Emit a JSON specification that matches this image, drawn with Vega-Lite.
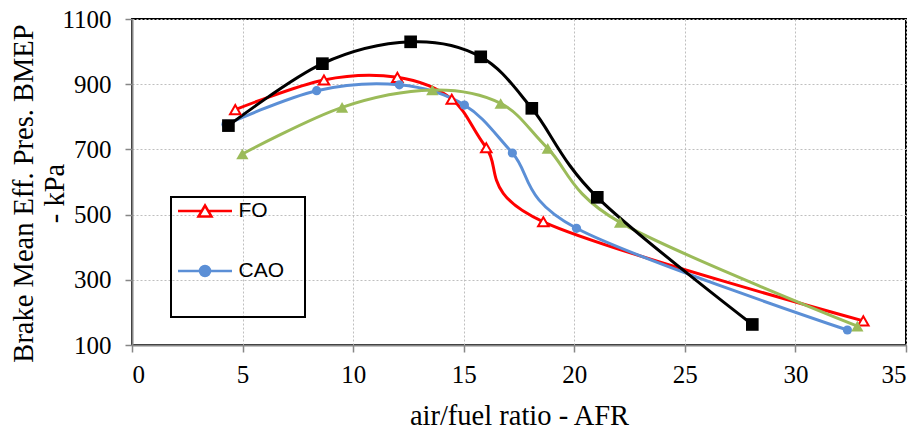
{
  "$schema": "https://vega.github.io/schema/vega-lite/v6.json",
  "width": 774,
  "height": 326,
  "autosize": {"type": "none"},
  "padding": {"left": 132, "top": 19, "right": 15, "bottom": 85},
  "background": "white",
  "config": {
    "view": {"stroke": "black", "strokeWidth": 2},
    "font": "Liberation Serif"
  },
  "data": {
    "values": [
      {"series": "FO", "afr": 4.67, "bmep": 822},
      {"series": "FO", "afr": 8.68, "bmep": 913},
      {"series": "FO", "afr": 12.0, "bmep": 921},
      {"series": "FO", "afr": 14.46, "bmep": 854},
      {"series": "FO", "afr": 16.02, "bmep": 705},
      {"series": "FO", "afr": 18.6, "bmep": 478},
      {"series": "FO", "afr": 33.07, "bmep": 174},
      {"series": "CAO", "afr": 4.25, "bmep": 777},
      {"series": "CAO", "afr": 8.35, "bmep": 880},
      {"series": "CAO", "afr": 12.09, "bmep": 898},
      {"series": "CAO", "afr": 15.03, "bmep": 836},
      {"series": "CAO", "afr": 17.2, "bmep": 689},
      {"series": "CAO", "afr": 20.1, "bmep": 458},
      {"series": "CAO", "afr": 32.35, "bmep": 146},
      {"series": "Blend", "afr": 4.99, "bmep": 686},
      {"series": "Blend", "afr": 9.5, "bmep": 829},
      {"series": "Blend", "afr": 13.58, "bmep": 882},
      {"series": "Blend", "afr": 16.67, "bmep": 841},
      {"series": "Blend", "afr": 18.8, "bmep": 703},
      {"series": "Blend", "afr": 22.07, "bmep": 476},
      {"series": "Blend", "afr": 32.8, "bmep": 158},
      {"series": "Diesel", "afr": 4.36, "bmep": 773},
      {"series": "Diesel", "afr": 8.61, "bmep": 963},
      {"series": "Diesel", "afr": 12.6, "bmep": 1030},
      {"series": "Diesel", "afr": 15.77, "bmep": 984},
      {"series": "Diesel", "afr": 18.08, "bmep": 826},
      {"series": "Diesel", "afr": 21.04, "bmep": 553},
      {"series": "Diesel", "afr": 28.05, "bmep": 163}
    ]
  },
  "encoding": {
    "x": {
      "field": "afr", "type": "quantitative",
      "scale": {"domain": [0, 35], "nice": false, "zero": false},
      "axis": {
        "title": "air/fuel ratio - AFR",
        "values": [0, 5, 10, 15, 20, 25, 30, 35],
        "domainColor": "#868686", "domainWidth": 2,
        "tickColor": "#868686", "tickWidth": 1.5, "tickSize": 7,
        "gridColor": "#bfbfbf", "gridDash": [2, 2], "gridWidth": 1,
        "labelFont": "Liberation Serif", "labelFontSize": 25, "labelColor": "black", "labelPadding": 10,
        "titleFont": "Liberation Serif", "titleFontSize": 28.5, "titleFontWeight": "normal", "titleColor": "black",
        "titleY": 79, "titleBaseline": "alphabetic"
      }
    },
    "y": {
      "field": "bmep", "type": "quantitative",
      "scale": {"domain": [100, 1100], "nice": false, "zero": false},
      "axis": {
        "title": ["Brake Mean Eff. Pres. BMEP", "- kPa"],
        "values": [100, 300, 500, 700, 900, 1100],
        "format": "d",
        "domainColor": "#868686", "domainWidth": 2,
        "tickColor": "#868686", "tickWidth": 1.5, "tickSize": 7,
        "gridColor": "#bfbfbf", "gridDash": [2, 2], "gridWidth": 1,
        "labelFont": "Liberation Serif", "labelFontSize": 25, "labelColor": "black", "labelPadding": 14,
        "titleFont": "Liberation Serif", "titleFontSize": 28.5, "titleFontWeight": "normal", "titleColor": "black",
        "titleAngle": -90, "titleX": -100, "titleY": 174, "titleBaseline": "alphabetic", "titleAlign": "center", "titleLineHeight": 31
      }
    }
  },
  "layer": [
    {
      "mark": {"type": "line", "interpolate": "cardinal", "strokeWidth": 3},
      "encoding": {
        "stroke": {
          "field": "series", "type": "nominal",
          "scale": {"domain": ["FO", "CAO", "Blend", "Diesel"], "range": ["#ff0000", "#5b8fd6", "#9bbb59", "#000000"]},
          "legend": {
            "values": ["FO", "CAO"],
            "title": "MMMMMMM",
            "titleOrient": "bottom", "titleFont": "Liberation Sans", "titleFontSize": 22, "titlePadding": 12, "titleOpacity": 0,
            "orient": "none", "legendX": 39, "legendY": 178,
            "strokeColor": "black", "padding": 2.5,
            "symbolSize": 400, "symbolStrokeWidth": 2.5,
            "rowPadding": 38,
            "labelFont": "Liberation Sans", "labelFontSize": 21, "labelColor": "black", "labelOffset": 42,
            "encode": {
              "legend": {"update": {"strokeWidth": {"value": 2}}},
              "symbols": {
                "update": {
                  "shape": {"signal": "datum.value === 'FO' ? 'M-0.7,0H1.675M2.325,0H4.7M2,-0.55L2.65,0.55H1.35Z' : 'M-0.7,0H4.7M2.5,0A0.5,0.5 0 1,1 1.5,0A0.5,0.5 0 1,1 2.5,0Z'"},
                  "fill": {"signal": "datum.value === 'FO' ? 'white' : '#5b8fd6'"},
                  "fillOpacity": {"value": 1},
                  "opacity": {"value": 1}
                }
              }
            }
          }
        }
      }
    },
    {
      "transform": [{"filter": "datum.series === 'FO'"}],
      "mark": {"type": "point", "shape": "triangle-up", "filled": false, "fill": "white", "fillOpacity": 1, "stroke": "#ff0000", "strokeWidth": 2, "size": 110, "opacity": 1}
    },
    {
      "transform": [{"filter": "datum.series === 'CAO'"}],
      "mark": {"type": "point", "shape": "circle", "filled": true, "fill": "#5b8fd6", "size": 85, "opacity": 1}
    },
    {
      "transform": [{"filter": "datum.series === 'Blend'"}],
      "mark": {"type": "point", "shape": "triangle-up", "filled": true, "fill": "#9bbb59", "size": 150, "opacity": 1}
    },
    {
      "transform": [{"filter": "datum.series === 'Diesel'"}],
      "mark": {"type": "point", "shape": "square", "filled": true, "fill": "#000000", "size": 160, "opacity": 1}
    }
  ]
}
